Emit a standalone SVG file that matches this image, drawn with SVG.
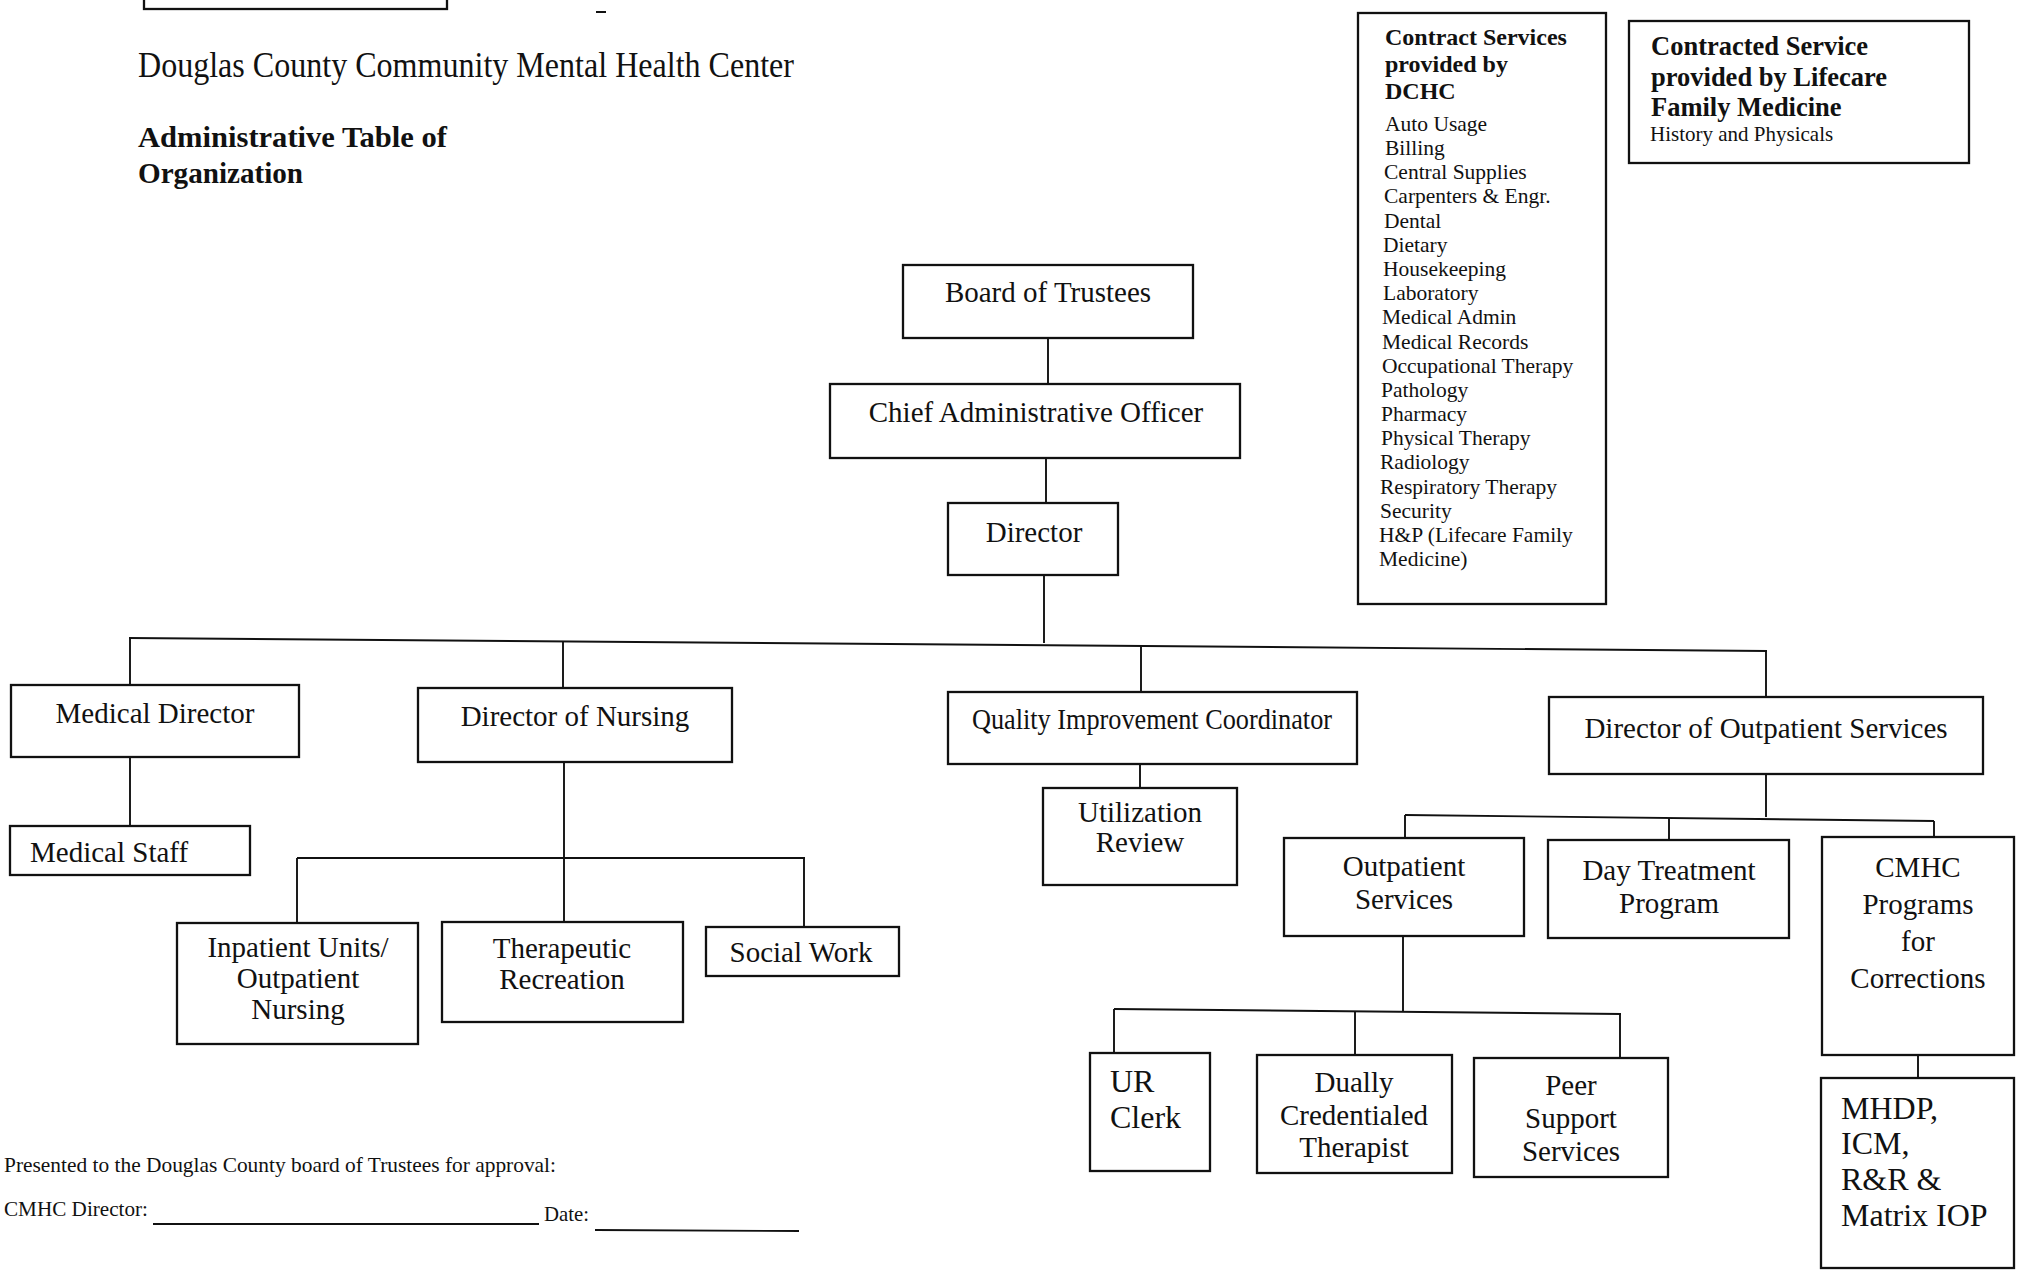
<svg xmlns="http://www.w3.org/2000/svg" width="2018" height="1273" viewBox="0 0 2018 1273">
<style>
.bx{fill:#fff;stroke:#111;stroke-width:2.3}
.ln{fill:none;stroke:#111;stroke-width:1.9}
.t{font-family:"Liberation Serif","Times New Roman",serif;fill:#111}
.n{font-size:29px;text-anchor:middle}
.b{font-weight:bold}
.li{font-size:21.5px}
</style>
<rect width="2018" height="1273" fill="#fff"/>
<g id="header">
<rect x="144" y="-20" width="303" height="29" fill="none" stroke="#111" stroke-width="2.3"/>
<line x1="596" y1="12" x2="606" y2="12" stroke="#111" stroke-width="2"/>
<text class="t" x="138" y="77" font-size="36" textLength="656" lengthAdjust="spacingAndGlyphs">Douglas County Community Mental Health Center</text>
<text class="t b" x="138" y="147" font-size="30" textLength="309" lengthAdjust="spacingAndGlyphs">Administrative Table of</text>
<text class="t b" x="138" y="183" font-size="30" textLength="165" lengthAdjust="spacingAndGlyphs">Organization</text>
</g>
<g id="connectors">
<line class="ln" x1="1048" y1="338" x2="1048" y2="384"/>
<line class="ln" x1="1046" y1="458" x2="1046" y2="503"/>
<line class="ln" x1="1044" y1="575" x2="1044" y2="643"/>
<line class="ln" x1="129" y1="638" x2="1767" y2="651"/>
<line class="ln" x1="130" y1="638" x2="130" y2="685"/>
<line class="ln" x1="563" y1="641" x2="563" y2="688"/>
<line class="ln" x1="1141" y1="646" x2="1141" y2="692"/>
<line class="ln" x1="1766" y1="651" x2="1766" y2="697"/>
<line class="ln" x1="130" y1="757" x2="130" y2="826"/>
<line class="ln" x1="564" y1="762" x2="564" y2="922"/>
<line class="ln" x1="297" y1="858" x2="805" y2="858"/>
<line class="ln" x1="297" y1="858" x2="297" y2="923"/>
<line class="ln" x1="804" y1="858" x2="804" y2="927"/>
<line class="ln" x1="1140" y1="764" x2="1140" y2="788"/>
<line class="ln" x1="1766" y1="774" x2="1766" y2="817"/>
<line class="ln" x1="1405" y1="815" x2="1934" y2="821"/>
<line class="ln" x1="1405" y1="815" x2="1405" y2="838"/>
<line class="ln" x1="1669" y1="818" x2="1669" y2="840"/>
<line class="ln" x1="1934" y1="821" x2="1934" y2="846"/>
<line class="ln" x1="1403" y1="936" x2="1403" y2="1011"/>
<line class="ln" x1="1114" y1="1009" x2="1621" y2="1014"/>
<line class="ln" x1="1114" y1="1009" x2="1114" y2="1053"/>
<line class="ln" x1="1355" y1="1011" x2="1355" y2="1055"/>
<line class="ln" x1="1620" y1="1014" x2="1620" y2="1058"/>
<line class="ln" x1="1918" y1="1055" x2="1918" y2="1078"/>
</g>
<g id="board"><rect class="bx" x="903" y="265" width="290" height="73"/><text class="t n" x="1048" y="302">Board of Trustees</text></g>
<g id="cao"><rect class="bx" x="830" y="384" width="410" height="74"/><text class="t n" x="1036" y="422">Chief Administrative Officer</text></g>
<g id="director"><rect class="bx" x="948" y="503" width="170" height="72"/><text class="t n" x="1034" y="542">Director</text></g>
<g id="medical-director"><rect class="bx" x="11" y="685" width="288" height="72"/><text class="t n" x="155" y="723">Medical Director</text></g>
<g id="medical-staff"><rect class="bx" x="10" y="826" width="240" height="49"/><text class="t" x="30" y="862" font-size="29">Medical Staff</text></g>
<g id="director-nursing"><rect class="bx" x="418" y="688" width="314" height="74"/><text class="t n" x="575" y="726">Director of Nursing</text></g>
<g id="inpatient"><rect class="bx" x="177" y="923" width="241" height="121"/><text class="t n" x="298" font-size="27"><tspan x="298" y="957">Inpatient Units/</tspan><tspan x="298" y="988">Outpatient</tspan><tspan x="298" y="1019">Nursing</tspan></text></g>
<g id="therapeutic-recreation"><rect class="bx" x="442" y="922" width="241" height="100"/><text class="t n" font-size="27"><tspan x="562" y="958">Therapeutic</tspan><tspan x="562" y="989">Recreation</tspan></text></g>
<g id="social-work"><rect class="bx" x="706" y="927" width="193" height="49"/><text class="t n" x="801" y="962" font-size="27">Social Work</text></g>
<g id="qi"><rect class="bx" x="948" y="692" width="409" height="72"/><text class="t n" x="1152" y="729" font-size="28" textLength="360" lengthAdjust="spacingAndGlyphs">Quality Improvement Coordinator</text></g>
<g id="utilization"><rect class="bx" x="1043" y="788" width="194" height="97"/><text class="t n" font-size="27"><tspan x="1140" y="822">Utilization</tspan><tspan x="1140" y="852">Review</tspan></text></g>
<g id="director-outpatient"><rect class="bx" x="1549" y="697" width="434" height="77"/><text class="t n" x="1766" y="738">Director of Outpatient Services</text></g>
<g id="outpatient-services"><rect class="bx" x="1284" y="838" width="240" height="98"/><text class="t n"><tspan x="1404" y="876">Outpatient</tspan><tspan x="1404" y="909">Services</tspan></text></g>
<g id="day-treatment"><rect class="bx" x="1548" y="840" width="241" height="98"/><text class="t n"><tspan x="1669" y="880">Day Treatment</tspan><tspan x="1669" y="913">Program</tspan></text></g>
<g id="cmhc-corrections"><rect class="bx" x="1822" y="837" width="192" height="218"/><text class="t n" font-size="32"><tspan x="1918" y="877">CMHC</tspan><tspan x="1918" y="914">Programs</tspan><tspan x="1918" y="951">for</tspan><tspan x="1918" y="988">Corrections</tspan></text></g>
<g id="ur-clerk"><rect class="bx" x="1090" y="1053" width="120" height="118"/><text class="t" font-size="32"><tspan x="1110" y="1092">UR</tspan><tspan x="1110" y="1128">Clerk</tspan></text></g>
<g id="dually"><rect class="bx" x="1257" y="1055" width="195" height="118"/><text class="t n"><tspan x="1354" y="1092">Dually</tspan><tspan x="1354" y="1125">Credentialed</tspan><tspan x="1354" y="1157">Therapist</tspan></text></g>
<g id="peer-support"><rect class="bx" x="1474" y="1058" width="194" height="119"/><text class="t n" font-size="30"><tspan x="1571" y="1095">Peer</tspan><tspan x="1571" y="1128">Support</tspan><tspan x="1571" y="1161">Services</tspan></text></g>
<g id="mhdp"><rect class="bx" x="1821" y="1078" width="193" height="190"/><text class="t" font-size="32"><tspan x="1841" y="1119">MHDP,</tspan><tspan x="1841" y="1154">ICM,</tspan><tspan x="1841" y="1190">R&amp;R &amp;</tspan><tspan x="1841" y="1226">Matrix IOP</tspan></text></g>
<g id="contract-services"><rect class="bx" x="1358" y="13" width="248" height="591"/>
<text class="t b" font-size="24"><tspan x="1385" y="45">Contract Services</tspan><tspan x="1385" y="72">provided by</tspan><tspan x="1385" y="99">DCHC</tspan></text>
<text class="t li">
<tspan x="1385" y="131">Auto Usage</tspan>
<tspan x="1385" y="155">Billing</tspan>
<tspan x="1384" y="179">Central Supplies</tspan>
<tspan x="1384" y="203">Carpenters &amp; Engr.</tspan>
<tspan x="1384" y="228">Dental</tspan>
<tspan x="1383" y="252">Dietary</tspan>
<tspan x="1383" y="276">Housekeeping</tspan>
<tspan x="1383" y="300">Laboratory</tspan>
<tspan x="1382" y="324">Medical Admin</tspan>
<tspan x="1382" y="349">Medical Records</tspan>
<tspan x="1382" y="373">Occupational Therapy</tspan>
<tspan x="1381" y="397">Pathology</tspan>
<tspan x="1381" y="421">Pharmacy</tspan>
<tspan x="1381" y="445">Physical Therapy</tspan>
<tspan x="1380" y="469">Radiology</tspan>
<tspan x="1380" y="494">Respiratory Therapy</tspan>
<tspan x="1380" y="518">Security</tspan>
<tspan x="1379" y="542">H&amp;P (Lifecare Family</tspan>
<tspan x="1379" y="566">Medicine)</tspan>
</text></g>
<g id="lifecare"><rect class="bx" x="1629" y="21" width="340" height="142"/>
<text class="t b" font-size="26.5"><tspan x="1651" y="55">Contracted Service</tspan><tspan x="1651" y="86">provided by Lifecare</tspan><tspan x="1651" y="116">Family Medicine</tspan></text>
<text class="t" x="1650" y="141" font-size="21">History and Physicals</text></g>
<g id="footer">
<text class="t" x="4" y="1172" font-size="22" textLength="552" lengthAdjust="spacingAndGlyphs">Presented to the Douglas County board of Trustees for approval:</text>
<text class="t" x="4" y="1216" font-size="22" textLength="144" lengthAdjust="spacingAndGlyphs">CMHC Director:</text>
<line x1="153" y1="1224" x2="539" y2="1224" stroke="#111" stroke-width="1.8"/>
<text class="t" x="544" y="1221" font-size="22" textLength="45" lengthAdjust="spacingAndGlyphs">Date:</text>
<line x1="595" y1="1230" x2="799" y2="1231" stroke="#111" stroke-width="1.8"/>
</g>
</svg>
